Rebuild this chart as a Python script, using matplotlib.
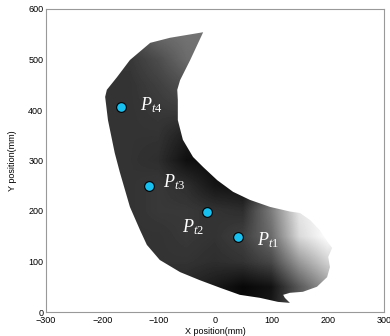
import numpy as np
import matplotlib
matplotlib.use("Agg")
import matplotlib.pyplot as plt
from matplotlib.patches import Polygon

plt.rcParams['font.family'] = ['Liberation Sans', 'DejaVu Sans']
plt.rcParams['mathtext.fontset'] = 'custom'
plt.rcParams['mathtext.it'] = 'Liberation Serif:italic'
plt.rcParams['mathtext.rm'] = 'Liberation Serif'

# outline of the shaded region (mm)
edge_x = [-21, -80, -115, -151, -174, -192, -195, -190, -178, -169, -151, -133,
          -121, -98, -62, -27, 9, 44, 80, 112, 133, 124, 121, 133, 156, 181,
          199, 204, 201, 208, 201, 186, 169, 151, 133, 98, 62, 32, 4, -21, -39,
          -57, -66, -66, -67, -62, -44]
edge_y = [554, 543, 533, 499, 465, 440, 426, 380, 315, 277, 208, 162,
          133, 103, 79, 63, 48, 34, 28, 20, 18, 28, 34, 38, 40, 50,
          69, 89, 109, 127, 137, 162, 182, 196, 199, 208, 222, 238, 261, 287, 307,
          341, 380, 420, 440, 459, 499]

# gray level on a 50 mm grid (0 = black, 1 = white)
grid_x = [-200, -150, -100, -50, 0, 50, 100, 150, 200, 250]
grid_y = [0, 50, 100, 150, 200, 250, 300, 350, 400, 450, 500, 550]
gray = [
    [0.15, 0.15, 0.15, 0.12, 0.08, 0.05, 0.10, 0.35, 0.50, 0.55],
    [0.15, 0.15, 0.15, 0.15, 0.10, 0.03, 0.07, 0.35, 0.60, 0.65],
    [0.20, 0.20, 0.20, 0.20, 0.18, 0.20, 0.28, 0.60, 0.82, 0.85],
    [0.20, 0.20, 0.20, 0.22, 0.20, 0.25, 0.42, 0.85, 1.00, 1.00],
    [0.20, 0.20, 0.22, 0.22, 0.20, 0.18, 0.48, 0.90, 1.00, 1.00],
    [0.20, 0.20, 0.22, 0.18, 0.08, 0.06, 0.30, 0.60, 0.70, 0.70],
    [0.20, 0.20, 0.18, 0.06, 0.04, 0.10, 0.20, 0.30, 0.30, 0.30],
    [0.20, 0.20, 0.20, 0.12, 0.12, 0.20, 0.20, 0.20, 0.20, 0.20],
    [0.20, 0.20, 0.22, 0.24, 0.25, 0.25, 0.25, 0.25, 0.25, 0.25],
    [0.20, 0.20, 0.25, 0.32, 0.35, 0.35, 0.35, 0.35, 0.35, 0.35],
    [0.22, 0.22, 0.30, 0.42, 0.45, 0.45, 0.45, 0.45, 0.45, 0.45],
    [0.25, 0.30, 0.42, 0.45, 0.45, 0.45, 0.45, 0.45, 0.45, 0.45],
]

# marked points and their labels
pt_x = [41, -14, -117, -167]
pt_y = [148, 198, 249, 406]
pt_names = [r"$P_{t1}$", r"$P_{t2}$", r"$P_{t3}$", r"$P_{t4}$"]
lab_x = [75, -59, -92, -133]
lab_y = [133, 158, 247, 400]

fig = plt.figure(figsize=(3.9, 3.36), dpi=100)
ax = fig.add_axes([46 / 390, 24 / 336, 338 / 390, 303 / 336])

step = 25
im = ax.imshow(np.array(gray), cmap='gray', vmin=0, vmax=1, origin='lower',
               extent=(grid_x[0] - step, grid_x[-1] + step,
                       grid_y[0] - step, grid_y[-1] + step),
               interpolation='bilinear', aspect='auto')
region = Polygon(np.column_stack([edge_x, edge_y]), closed=True,
                 facecolor='none', edgecolor='none')
ax.add_patch(region)
im.set_clip_path(region)

ax.plot(pt_x, pt_y, 'o', ms=7, mfc='#18c0f0', mec='black', mew=0.8, zorder=3)
for name, x, y in zip(pt_names, lab_x, lab_y):
    ax.text(x, y, name, color='white', fontsize=13, ha='left', va='baseline')

ax.set_xlim(-300, 300)
ax.set_ylim(0, 600)
ax.set_xticks(range(-300, 301, 100))
ax.set_yticks(range(0, 601, 100))
ax.tick_params(length=0, labelsize=6.5)
ax.tick_params(axis='x', pad=3)
ax.tick_params(axis='y', pad=2)
for s in ax.spines.values():
    s.set_color('#999999')
    s.set_linewidth(0.8)
ax.set_xlabel("X position(mm)", fontsize=6.5, labelpad=1.5)
ax.set_ylabel("Y position(mm)", fontsize=6.5, labelpad=8)

fig.savefig('out.png', dpi=100)
